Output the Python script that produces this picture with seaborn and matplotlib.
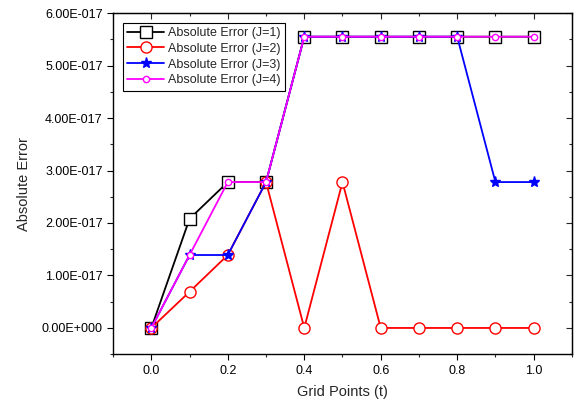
import pandas as pd
import seaborn as sns
import matplotlib.pyplot as plt
from matplotlib.ticker import MultipleLocator

grid_points = [0.0, 0.1, 0.2, 0.3, 0.4, 0.5, 0.6, 0.7, 0.8, 0.9, 1.0]
err_j1 = [0, 2.08e-17, 2.78e-17, 2.78e-17, 5.55e-17, 5.55e-17, 5.55e-17, 5.55e-17, 5.55e-17, 5.55e-17, 5.55e-17]
err_j2 = [0, 0.69e-17, 1.39e-17, 2.78e-17, 0, 2.78e-17, 0, 0, 0, 0, 0]
err_j3 = [0, 1.39e-17, 1.39e-17, 2.78e-17, 5.55e-17, 5.55e-17, 5.55e-17, 5.55e-17, 5.55e-17, 2.78e-17, 2.78e-17]
err_j4 = [0, 1.39e-17, 2.78e-17, 2.78e-17, 5.55e-17, 5.55e-17, 5.55e-17, 5.55e-17, 5.55e-17, 5.55e-17, 5.55e-17]
series_names = ['Absolute Error (J=1)', 'Absolute Error (J=2)', 'Absolute Error (J=3)', 'Absolute Error (J=4)']

y_ticks = [0, 1e-17, 2e-17, 3e-17, 4e-17, 5e-17, 6e-17]
y_labels = ['0.00E+000', '1.00E-017', '2.00E-017', '3.00E-017', '4.00E-017', '5.00E-017', '6.00E-017']
x_ticks = [0.0, 0.2, 0.4, 0.6, 0.8, 1.0]
x_labels = ['0.0', '0.2', '0.4', '0.6', '0.8', '1.0']

sns.set_style('ticks')
plt.rcParams['font.family'] = ['Liberation Sans', 'DejaVu Sans']

fig = plt.figure(figsize=(5.8, 4.09), dpi=100)
ax = fig.add_axes([0.195, 0.134, 0.791, 0.834])

# marker styles per series, like the Origin default look
styles = [
    dict(color='black', marker='s', markersize=8, markerfacecolor='white', markeredgecolor='black', markeredgewidth=1.0),
    dict(color='red', marker='o', markersize=8, markerfacecolor='white', markeredgecolor='red', markeredgewidth=1.0),
    dict(color='blue', marker='*', markersize=8, markerfacecolor='blue', markeredgecolor='blue', markeredgewidth=1.0),
    dict(color='magenta', marker='o', markersize=4.5, markerfacecolor='white', markeredgecolor='magenta', markeredgewidth=1.0),
]
all_series = [err_j1, err_j2, err_j3, err_j4]

for name, values, st in zip(series_names, all_series, styles):
    df = pd.DataFrame({'t': grid_points, 'err': values})
    sns.lineplot(data=df, x='t', y='err', ax=ax, label=name, linewidth=1.3, **st)

ax.set_xlim(-0.1, 1.1)
ax.set_ylim(-0.5e-17, 6e-17)
ax.set_xticks(x_ticks, x_labels)
ax.set_yticks(y_ticks, y_labels)
ax.xaxis.set_minor_locator(MultipleLocator(0.1))
ax.yaxis.set_minor_locator(MultipleLocator(0.5e-17))
ax.tick_params(axis='both', which='major', direction='out', length=4, width=0.8, labelsize=9, colors='black')
ax.tick_params(axis='both', which='minor', direction='out', length=2.5, width=0.8)

# mirrored ticks on top and right (inward, no labels)
top = ax.secondary_xaxis('top')
top.set_xticks(x_ticks)
top.set_xticklabels([])
top.xaxis.set_minor_locator(MultipleLocator(0.1))
top.tick_params(which='major', direction='in', length=4, width=0.8)
top.tick_params(which='minor', direction='in', length=2.5, width=0.8)
right = ax.secondary_yaxis('right')
right.set_yticks(y_ticks)
right.set_yticklabels([])
right.yaxis.set_minor_locator(MultipleLocator(0.5e-17))
right.tick_params(which='major', direction='in', length=4, width=0.8)
right.tick_params(which='minor', direction='in', length=2.5, width=0.8)

for sp in ax.spines.values():
    sp.set_linewidth(1.0)
    sp.set_color('black')

ax.set_xlabel('Grid Points (t)', fontsize=10.5, labelpad=6)
ax.set_ylabel('Absolute Error', fontsize=10.5, labelpad=8)

leg = ax.legend(loc='upper left', fontsize=9, frameon=True, fancybox=False,
                edgecolor='black', framealpha=1, borderpad=0.35, labelspacing=0.3,
                handlelength=3.0, handletextpad=0.3, bbox_to_anchor=(0.007, 0.99))
leg.get_frame().set_linewidth(0.8)

fig.savefig('out.png', dpi=100)
